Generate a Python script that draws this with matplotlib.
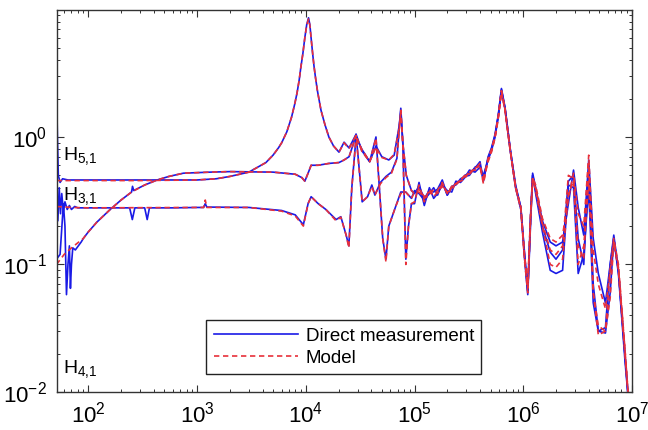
import matplotlib
matplotlib.use('Agg')
import matplotlib.pyplot as plt
from matplotlib.ticker import LogLocator, NullFormatter

plt.rcParams['font.family'] = ['Liberation Sans', 'DejaVu Sans']
plt.rcParams['mathtext.fontset'] = 'custom'
plt.rcParams['mathtext.rm'] = 'Liberation Sans'
plt.rcParams['mathtext.it'] = 'Liberation Sans:italic'

# shared high-frequency grid (Hz), common to every curve
f_hi = [1.0e5, 1.1e5, 1.23e5, 1.37e5, 1.5e5, 1.63e5, 1.8e5, 2.0e5, 2.2e5, 2.4e5,
        2.65e5, 2.9e5, 3.2e5, 3.6e5, 4.0e5, 4.3e5, 4.75e5, 5.1e5, 5.5e5, 5.9e5,
        6.3e5, 6.8e5, 7.6e5, 8.5e5, 9.5e5, 1.03e6, 1.1e6, 1.17e6, 1.22e6, 1.3e6,
        1.5e6, 1.77e6, 2.0e6, 2.3e6, 2.6e6, 2.9e6, 3.2e6, 3.6e6, 4.0e6, 4.4e6,
        4.9e6, 5.7e6, 6.3e6, 6.8e6, 7.5e6, 8.6e6, 9.6e6]

# H5,1 (resonance near 1e4)
f5_meas = [51.2, 52, 53, 55, 58, 65, 100, 300, 1000, 1500, 2000, 3000, 4300, 5000,
           5600, 6000, 6700, 7400, 7900, 8300, 8700, 9000, 9400, 9800, 10200, 10600,
           10900, 11300, 11600, 11900, 12300, 12800, 13800, 15000, 16300, 18000, 20200,
           22500, 25000, 29000, 32800, 38700, 44200, 50000, 58000, 65000, 72000, 74800,
           78000, 84000, 93700]
m5_meas = [2.1, 1.0, 0.5, 0.44, 0.47, 0.46, 0.46, 0.46, 0.46, 0.47, 0.49, 0.53, 0.63,
           0.72, 0.82, 0.9, 1.1, 1.43, 1.8, 2.2, 2.8, 3.5, 4.5, 6.0, 7.6, 8.6, 7.6, 5.5,
           4.4, 3.6, 2.9, 2.3, 1.62, 1.25, 1.0, 0.85, 0.76, 0.91, 0.82, 1.05, 0.78, 0.64,
           0.85, 0.7, 0.66, 0.72, 1.2, 1.6, 0.9, 0.5, 0.38]
m5_meas_hi = [0.36, 0.41, 0.33, 0.38, 0.37, 0.39, 0.46, 0.35, 0.40, 0.43, 0.45, 0.50,
              0.52, 0.57, 0.64, 0.46, 0.70, 0.82, 1.05, 1.5, 2.4, 1.7, 0.8, 0.42, 0.28,
              0.12, 0.062, 0.25, 0.52, 0.40, 0.22, 0.15, 0.14, 0.15, 0.30, 0.55, 0.28,
              0.17, 0.66, 0.16, 0.085, 0.05, 0.10, 0.17, 0.09, 0.02, 0.006]
f5_mod = [51, 100, 300, 1000, 1500, 2000, 3000, 4300, 5000, 5600, 6000, 6700, 7400,
          7900, 8300, 8700, 9000, 9400, 9800, 10200, 10600, 10900, 11300, 11600, 11900,
          12300, 12800, 13800, 15000, 16300, 18000, 20200, 22500, 25000, 29000, 32800,
          38700, 44200, 50000, 58000, 65000, 72000, 74800, 78000, 84000, 93700]
m5_mod = [0.455, 0.455, 0.455, 0.46, 0.47, 0.49, 0.53, 0.63, 0.72, 0.82, 0.9, 1.1, 1.43,
          1.8, 2.2, 2.8, 3.5, 4.5, 6.0, 7.5, 8.4, 7.5, 5.5, 4.4, 3.6, 2.9, 2.3, 1.62,
          1.25, 1.0, 0.85, 0.76, 0.9, 0.81, 1.03, 0.77, 0.64, 0.83, 0.69, 0.66, 0.73,
          1.15, 1.55, 0.9, 0.5, 0.38]
m5_mod_hi = [0.36, 0.39, 0.34, 0.37, 0.38, 0.38, 0.44, 0.36, 0.41, 0.42, 0.46, 0.49,
             0.53, 0.56, 0.62, 0.44, 0.68, 0.80, 1.02, 1.45, 2.3, 1.65, 0.78, 0.41, 0.28,
             0.115, 0.07, 0.26, 0.48, 0.42, 0.23, 0.16, 0.15, 0.17, 0.33, 0.52, 0.25,
             0.2, 0.72, 0.13, 0.07, 0.045, 0.09, 0.16, 0.1, 0.022, 0.006]

# H4,1 (rising from ~0.1)
f4_meas = [51, 55, 59, 61, 63, 65, 67, 68.5, 70, 72, 76, 81, 86, 90, 100, 120, 159, 200,
           250, 255, 262, 330, 430, 550, 750, 1000, 1330, 2000, 5000, 8000, 9200, 9800,
           10500, 11200, 13000, 16300, 20200, 22500, 25000, 27000, 29000, 33000, 37000,
           40500, 43200, 48600, 54600, 61400, 68900, 74800, 78000, 83200, 88000, 93700]
m4_meas = [0.11, 0.12, 0.3, 0.2, 0.058, 0.1, 0.14, 0.065, 0.1, 0.135, 0.13, 0.14, 0.15,
           0.16, 0.18, 0.215, 0.27, 0.32, 0.37, 0.41, 0.38, 0.42, 0.46, 0.49, 0.52,
           0.525, 0.53, 0.535, 0.53, 0.51, 0.48, 0.45, 0.52, 0.6, 0.6, 0.62, 0.63, 0.66,
           0.7, 0.85, 1.05, 0.31, 0.34, 0.42, 0.35, 0.44, 0.49, 0.53, 0.68, 1.68, 0.9,
           0.11, 0.2, 0.3]
m4_meas_hi = [0.30, 0.44, 0.29, 0.40, 0.33, 0.36, 0.42, 0.38, 0.37, 0.45, 0.44, 0.48,
              0.55, 0.53, 0.58, 0.50, 0.66, 0.78, 1.0, 1.45, 2.3, 1.65, 0.78, 0.40, 0.27,
              0.11, 0.058, 0.22, 0.50, 0.38, 0.20, 0.125, 0.11, 0.13, 0.45, 0.50, 0.16,
              0.10, 0.55, 0.07, 0.03, 0.032, 0.10, 0.16, 0.085, 0.018, 0.006]
f4_mod = [51, 60, 70, 90, 100, 120, 159, 200, 250, 330, 430, 550, 750, 1000, 1330, 2000,
          5000, 8000, 9200, 9800, 10500, 11200, 13000, 16300, 20200, 22500, 25000, 27000,
          29000, 33000, 37000, 40500, 43200, 48600, 54600, 61400, 68900, 74800, 78000,
          83200, 88000, 93700]
m4_mod = [0.1, 0.12, 0.135, 0.16, 0.18, 0.215, 0.27, 0.32, 0.37, 0.42, 0.46, 0.49, 0.52,
          0.525, 0.53, 0.535, 0.53, 0.51, 0.48, 0.45, 0.52, 0.6, 0.6, 0.62, 0.63, 0.66,
          0.7, 0.85, 1.03, 0.31, 0.34, 0.41, 0.35, 0.43, 0.48, 0.52, 0.67, 1.62, 0.9,
          0.1, 0.2, 0.3]
m4_mod_hi = [0.31, 0.42, 0.31, 0.39, 0.34, 0.37, 0.41, 0.37, 0.38, 0.44, 0.45, 0.47,
             0.54, 0.55, 0.57, 0.48, 0.64, 0.76, 0.98, 1.4, 2.25, 1.6, 0.77, 0.40, 0.27,
             0.105, 0.06, 0.23, 0.47, 0.40, 0.21, 0.13, 0.12, 0.14, 0.50, 0.47, 0.14,
             0.11, 0.62, 0.06, 0.028, 0.03, 0.09, 0.15, 0.09, 0.02, 0.006]

# H3,1 (flat near 0.28)
f3_meas = [51, 52.5, 54, 55.5, 57, 59, 61, 64, 67, 70, 75, 80, 100, 240, 254, 268, 330,
           348, 365, 600, 1000, 1150, 1190, 1230, 3000, 6000, 8000, 9500, 10500, 11200,
           13000, 15300, 19000, 21000, 23500, 24900, 26500, 29000, 32800, 38700, 44200,
           47500, 51000, 54600, 58000, 67600, 74800, 83000, 88000, 93700]
m3_meas = [0.3, 0.22, 0.4, 0.25, 0.36, 0.26, 0.31, 0.27, 0.29, 0.27, 0.285, 0.278,
           0.278, 0.278, 0.225, 0.278, 0.278, 0.225, 0.278, 0.278, 0.28, 0.28, 0.3,
           0.282, 0.28, 0.265, 0.245, 0.205, 0.3, 0.34, 0.3, 0.27, 0.225, 0.237, 0.17,
           0.14, 0.4, 1.0, 0.8, 0.64, 1.0, 0.4, 0.16, 0.11, 0.2, 0.29, 0.37, 0.37, 0.35,
           0.33]
m3_meas_hi = [0.38, 0.36, 0.32, 0.36, 0.40, 0.35, 0.44, 0.35, 0.41, 0.42, 0.47, 0.49,
              0.50, 0.58, 0.60, 0.45, 0.68, 0.80, 1.02, 1.48, 2.35, 1.68, 0.79, 0.41,
              0.28, 0.115, 0.062, 0.24, 0.50, 0.36, 0.18, 0.09, 0.085, 0.09, 0.42, 0.40,
              0.085, 0.12, 0.40, 0.05, 0.03, 0.029, 0.06, 0.16, 0.09, 0.02, 0.006]
f3_mod = [51, 70, 100, 1000, 1150, 1190, 1230, 3000, 6000, 8000, 9500, 10500, 11200,
          13000, 15300, 19000, 21000, 23500, 24900, 26500, 29000, 32800, 38700, 44200,
          47500, 51000, 54600, 58000, 67600, 74800, 83000, 88000, 93700]
m3_mod = [0.285, 0.28, 0.278, 0.28, 0.28, 0.32, 0.28, 0.28, 0.262, 0.24, 0.2, 0.3, 0.34,
          0.3, 0.27, 0.22, 0.235, 0.17, 0.135, 0.4, 0.98, 0.8, 0.64, 0.98, 0.4, 0.16,
          0.105, 0.2, 0.29, 0.36, 0.37, 0.35, 0.33]
m3_mod_hi = [0.37, 0.37, 0.33, 0.35, 0.39, 0.36, 0.43, 0.36, 0.40, 0.43, 0.46, 0.50,
             0.51, 0.57, 0.59, 0.43, 0.66, 0.78, 1.0, 1.45, 2.3, 1.64, 0.78, 0.40, 0.28,
             0.11, 0.065, 0.25, 0.47, 0.38, 0.2, 0.1, 0.095, 0.11, 0.36, 0.45, 0.1,
             0.14, 0.45, 0.06, 0.033, 0.03, 0.055, 0.15, 0.095, 0.022, 0.006]

labels = ['H$_{5{,}1}$', 'H$_{3{,}1}$', 'H$_{4{,}1}$']
label_pos = [(58, 0.66), (58, 0.32), (58, 0.0142)]

fig = plt.figure(figsize=(6.48, 4.30), dpi=100)
ax = fig.add_axes([56.5 / 648, 38 / 430, 575.5 / 648, 382 / 430])

blue = '#1a1ae6'
red = '#e8303a'
meas = [(f5_meas, m5_meas, m5_meas_hi), (f4_meas, m4_meas, m4_meas_hi),
        (f3_meas, m3_meas, m3_meas_hi)]
mods = [(f5_mod, m5_mod, m5_mod_hi), (f4_mod, m4_mod, m4_mod_hi),
        (f3_mod, m3_mod, m3_mod_hi)]

for i, (f, m, mh) in enumerate(meas):
    ax.plot(f + f_hi, m + mh, color=blue, lw=1.2,
            label='Direct measurement' if i == 0 else None)
for i, (f, m, mh) in enumerate(mods):
    ax.plot(f + f_hi, m + mh, color=red, lw=1.2, ls=(0, (3.2, 2.2)),
            label='Model' if i == 0 else None)

ax.set_xscale('log')
ax.set_yscale('log')
ax.set_xlim(51, 1e7)
ax.set_ylim(1e-2, 9.9)

ax.xaxis.set_major_locator(LogLocator(base=10, numticks=12))
ax.xaxis.set_minor_locator(LogLocator(base=10, subs=range(2, 10), numticks=12))
ax.xaxis.set_minor_formatter(NullFormatter())
ax.yaxis.set_minor_formatter(NullFormatter())
ax.tick_params(which='both', direction='in', top=True, right=True,
               color='#333333', labelsize=16, labelcolor='black')
ax.tick_params(which='major', length=5, width=0.8, pad=7)
ax.tick_params(which='minor', length=2.5, width=0.7)
for s in ax.spines.values():
    s.set_color('#333333')
    s.set_linewidth(1.0)

for txt, (x, y) in zip(labels, label_pos):
    ax.text(x, y, txt, fontsize=14, va='baseline', ha='left')

leg = ax.legend(loc='lower left', bbox_to_anchor=(0.26, 0.047), borderaxespad=0,
                fontsize=13.5, handlelength=4.5, handletextpad=0.4, borderpad=0.4,
                labelspacing=0.25, fancybox=False, framealpha=1, edgecolor='#222222')
leg.get_frame().set_linewidth(1.0)

fig.savefig('out.png', dpi=100)
